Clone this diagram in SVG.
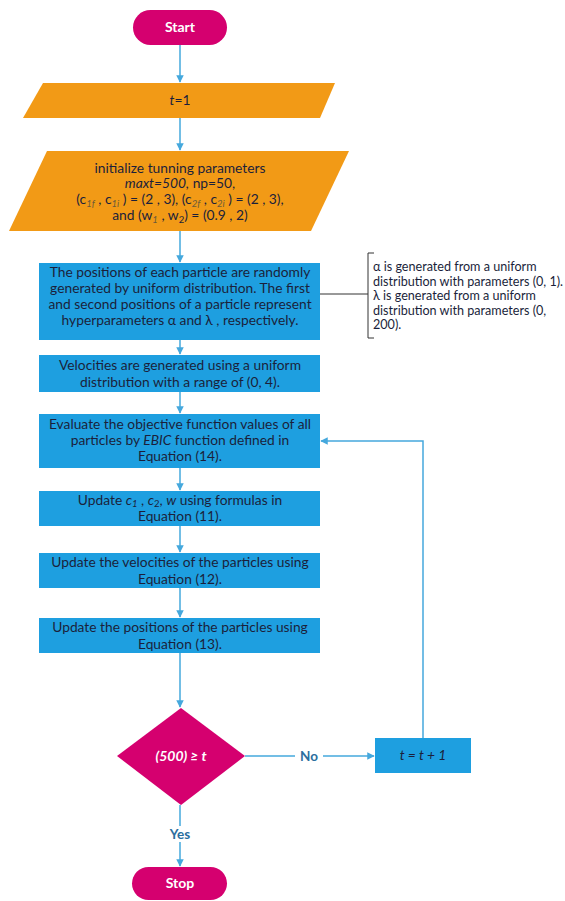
<svg xmlns="http://www.w3.org/2000/svg" width="565" height="901" viewBox="0 0 565 901">
<style>
.term{fill:#D5006F}
.io{fill:#F29A16}
.proc{fill:#1E9FE0}
.conn{stroke:#45A8DD;stroke-width:1.5;fill:none}
.t{font-family:Lato,"Open Sans",sans-serif;font-size:13.8px;fill:#1B1F3B;text-anchor:middle}
.w{font-family:Lato,"Open Sans",sans-serif;font-size:14px;fill:#ffffff;font-weight:bold;text-anchor:middle}
.side{font-family:Lato,"Open Sans",sans-serif;font-size:12.6px;fill:#1B1F3B}
.lbl{font-family:Lato,"Open Sans",sans-serif;font-size:13.5px;fill:#2B6E9E;font-weight:bold;text-anchor:middle}
.i{font-style:italic}
.sub{font-size:9.5px;font-style:italic;fill:#6b5a3a}
</style>
<defs>
<marker id="arr" viewBox="0 0 10 10" refX="9" refY="5" markerWidth="5" markerHeight="5" orient="auto" markerUnits="strokeWidth">
<path d="M0,0 L10,5 L0,10 z" fill="#45A8DD"/>
</marker>
</defs>
<rect width="565" height="901" fill="#ffffff"/>
<g id="connectors">
<line class="conn" x1="180" y1="45" x2="180" y2="82" marker-end="url(#arr)"/>
<line class="conn" x1="180" y1="118" x2="180" y2="150" marker-end="url(#arr)"/>
<line class="conn" x1="180" y1="231" x2="180" y2="262" marker-end="url(#arr)"/>
<line class="conn" x1="180" y1="340" x2="180" y2="354" marker-end="url(#arr)"/>
<line class="conn" x1="180" y1="392" x2="180" y2="413" marker-end="url(#arr)"/>
<line class="conn" x1="180" y1="468" x2="180" y2="490" marker-end="url(#arr)"/>
<line class="conn" x1="180" y1="526" x2="180" y2="552" marker-end="url(#arr)"/>
<line class="conn" x1="180" y1="588" x2="180" y2="617" marker-end="url(#arr)"/>
<line class="conn" x1="180" y1="653" x2="180" y2="707" marker-end="url(#arr)"/>
<line class="conn" x1="180" y1="805" x2="180" y2="866" marker-end="url(#arr)"/>
<line class="conn" x1="245" y1="756" x2="374" y2="756" marker-end="url(#arr)"/>
<polyline class="conn" points="423,738 423,441 321,441" marker-end="url(#arr)"/>
<line x1="320" y1="294" x2="368" y2="294" stroke="#333" stroke-width="1"/>
<path d="M374,253 L368,253 L368,338 L374,338" stroke="#333" stroke-width="1" fill="none"/>
<rect x="295" y="748" width="28" height="16" fill="#ffffff"/>
<text class="lbl" x="309" y="761">No</text>
<rect x="163" y="826" width="34" height="16" fill="#ffffff"/>
<text class="lbl" x="180" y="839">Yes</text>
</g>
<g id="start">
<rect class="term" x="133" y="10" width="94" height="35" rx="17.5"/>
<text class="w" x="180" y="32">Start</text>
</g>
<g id="init-t">
<polygon class="io" points="43,83 335,83 320,118 23,118"/>
<text class="t" x="180" y="105"><tspan class="i">t</tspan>=1</text>
</g>
<g id="init-params">
<polygon class="io" points="47,151 349,151 311,231 9,231"/>
<text class="t" x="180" y="173">initialize tunning parameters</text>
<text class="t" x="180" y="188"><tspan class="i">maxt=500,</tspan> np=50,</text>
<text class="t" x="180" y="204">(c<tspan class="sub" baseline-shift="-3">1f</tspan> , c<tspan class="sub" baseline-shift="-3">1i</tspan> ) = (2 , 3), (c<tspan class="sub" baseline-shift="-3">2f</tspan> , c<tspan class="sub" baseline-shift="-3">2i</tspan> ) = (2 , 3),</text>
<text class="t" x="180" y="220">and (w<tspan class="sub" baseline-shift="-3">1</tspan> , w<tspan font-size="9.5px" baseline-shift="-3">2</tspan>) = (0.9 , 2)</text>
</g>
<g id="positions">
<rect class="proc" x="39" y="263" width="281" height="77"/>
<text class="t" x="180" y="277">The positions of each particle are randomly</text>
<text class="t" x="180" y="293">generated by uniform distribution. The first</text>
<text class="t" x="180" y="309">and second positions of a particle represent</text>
<text class="t" x="180" y="325">hyperparameters α and λ , respectively.</text>
</g>
<g id="note">
<text class="side" x="373" y="271">α is generated from a uniform</text>
<text class="side" x="373" y="285.5">distribution with parameters (0, 1).</text>
<text class="side" x="373" y="300">λ is generated from a uniform</text>
<text class="side" x="373" y="314.5">distribution with parameters (0,</text>
<text class="side" x="373" y="329">200).</text>
</g>
<g id="velocities">
<rect class="proc" x="39" y="355" width="281" height="37"/>
<text class="t" x="180" y="370">Velocities are generated using a uniform</text>
<text class="t" x="180" y="387">distribution with a range of (0, 4).</text>
</g>
<g id="evaluate">
<rect class="proc" x="39" y="414" width="281" height="54"/>
<text class="t" x="180" y="429">Evaluate the objective function values of all</text>
<text class="t" x="180" y="445">particles by <tspan class="i">EBIC</tspan> function defined in</text>
<text class="t" x="180" y="461">Equation (14).</text>
</g>
<g id="update-c">
<rect class="proc" x="39" y="491" width="281" height="35"/>
<text class="t" x="180" y="505">Update <tspan class="i">c</tspan><tspan class="i" font-size="9.5px" baseline-shift="-2">1</tspan> , <tspan class="i">c</tspan><tspan font-size="9.5px" baseline-shift="-2">2</tspan>, <tspan class="i">w</tspan> using formulas in</text>
<text class="t" x="180" y="521">Equation (11).</text>
</g>
<g id="update-v">
<rect class="proc" x="39" y="553" width="281" height="35"/>
<text class="t" x="180" y="567">Update the velocities of the particles using</text>
<text class="t" x="180" y="584">Equation (12).</text>
</g>
<g id="update-p">
<rect class="proc" x="39" y="618" width="281" height="35"/>
<text class="t" x="180" y="632">Update the positions of the particles using</text>
<text class="t" x="180" y="649">Equation (13).</text>
</g>
<g id="decision">
<polygon class="term" points="181,708 245,756 181,805 117,756"/>
<text class="w i" x="181" y="761">(500) ≥ t</text>
</g>
<g id="increment">
<rect class="proc" x="375" y="738" width="96" height="35"/>
<text class="t i" x="423" y="760">t = t + 1</text>
</g>
<g id="stop">
<rect class="term" x="132" y="867" width="95" height="33" rx="16.5"/>
<text class="w" x="180" y="888">Stop</text>
</g>
</svg>
